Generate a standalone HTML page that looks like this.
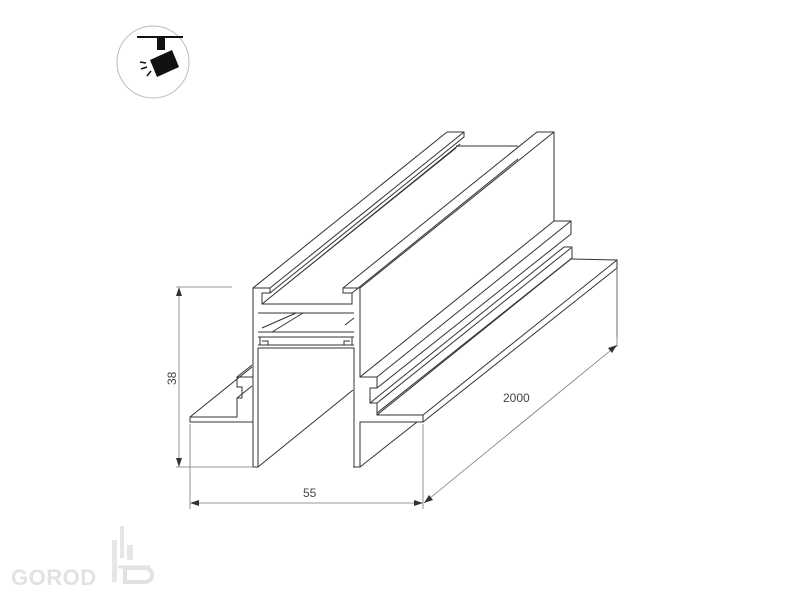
<!DOCTYPE html>
<html><head><meta charset="utf-8"><style>
html,body{margin:0;padding:0;background:#fff;width:800px;height:600px;overflow:hidden}
svg{display:block}
</style></head><body>
<svg width="800" height="600" viewBox="0 0 800 600" xmlns="http://www.w3.org/2000/svg">
<!-- icon -->
<circle cx="153" cy="62" r="36" fill="#fff" stroke="#bbb" stroke-width="1"/>
<line x1="137" y1="37" x2="183" y2="37" stroke="#111" stroke-width="2"/>
<rect x="157" y="38" width="8" height="12" fill="#111"/>
<polygon points="150,60 172,50 179,67 157,77" fill="#111"/>
<line x1="140" y1="62" x2="146" y2="63" stroke="#111" stroke-width="1.5"/>
<line x1="141" y1="69" x2="147" y2="67" stroke="#111" stroke-width="1.5"/>
<line x1="147" y1="76" x2="151" y2="71" stroke="#111" stroke-width="1.5"/>

<g fill="none" stroke="#333" stroke-width="1">
<path d="M253,467 V288 H270 V293 H262 V304 H352 V293 H343 V288 H360 V377 H377 V388 H370 V403 H377 V415 H423 V422 H360 V467 H353"/>
<path d="M258,467 H253"/>
<path d="M258,467 V348 H354 V467"/>
<path d="M258,313 H354 M258,332 H354 M258,337 H354 M258,345 H354"/>
<path d="M260,337 V345 H268 V341 H262 M352,337 V345 H344 V341 H350"/>
<path d="M253,422 H190 V417 H237 V398 H242 V387 H237 V377 H253"/>
<path d="M190,417 L252,367"/>
<path d="M237,377 L252,365 M237,398 L252,386"/>
<path d="M253,288 L447,132 H464 V137 L270,293"/>
<path d="M270,288 L464,132"/>
<path d="M262,304 L456,148 M267,300 L460,144"/>
<path d="M456,146 H518"/>
<path d="M343,288 L537,132 H554 V221"/>
<path d="M360,288 L554,132"/>
<path d="M352,293 L518,159"/>
<path d="M262,328 L296,313 M272,332 L303,313 M345,325 L354,318"/>
<path d="M360,377 L554,221 H571 V234 L377,388"/>
<path d="M377,377 L571,221"/>
<path d="M370,403 L564,247 H572 V258 L377,413"/>
<path d="M377,403 L571,248"/>
<path d="M377,415 L571,259 M423,415 L617,260 V337"/>
<path d="M571,259 L617,260"/>
<path d="M423,422 L617,268"/>
<path d="M258,467 L353,390"/>
<path d="M360,467 L417,422"/>
</g>

<g fill="none" stroke="#777" stroke-width="0.8">
<path d="M176,287 H232 M176,467 H253 M179,289 V466"/>
<path d="M190,424 V509 M423,424 V509 M191,503 H422"/>
<path d="M617,268 V347 M424,503 L616,346"/>
</g>
<g fill="#333">
<polygon points="179,287 176,296 182,296"/>
<polygon points="179,467 176,458 182,458"/>
<polygon points="190,503 199,500 199,506"/>
<polygon points="423,503 414,500 414,506"/>
<polygon points="617,345 608,348 612,353"/>
<polygon points="424,503 433,500 429,495"/>
</g>
<g font-family="Liberation Sans, sans-serif" font-size="12" fill="#444">
<text x="303" y="497">55</text>
<text x="503" y="402">2000</text>
<text transform="translate(176,385) rotate(-90)">38</text>
</g>
<g fill="#e6e6e6">
<text x="11" y="585" font-family="Liberation Sans, sans-serif" font-weight="bold" font-size="22" letter-spacing="0.5" fill="#e2e2e2">GOROD</text>
<rect x="112" y="540" width="5" height="42"/>
<rect x="120" y="526" width="4" height="32"/>
<rect x="127" y="545" width="6" height="15"/>
<path d="M118,567 H150" stroke="#e2e2e2" stroke-width="3"/>
<path d="M125,568 h20 a7,7 0 0 1 0,14 h-20z" fill="none" stroke="#e2e2e2" stroke-width="4"/>
</g>
</svg>
</body></html>
